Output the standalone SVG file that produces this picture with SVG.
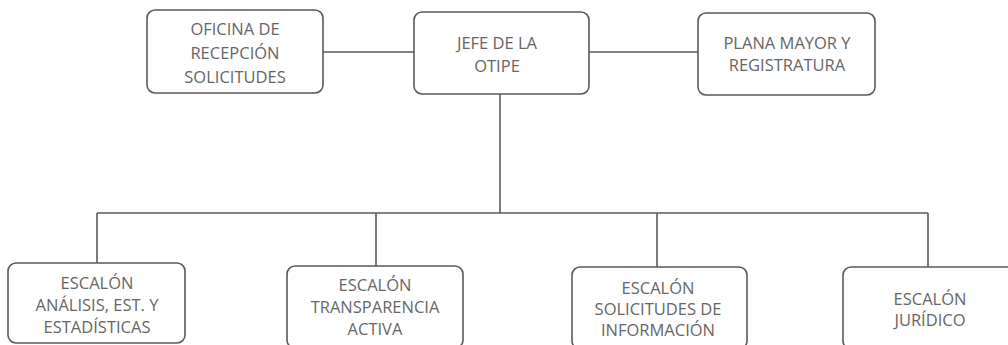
<svg xmlns="http://www.w3.org/2000/svg" width="1008" height="345" viewBox="0 0 1008 345">
<style>
.box{fill:#ffffff;stroke:#5a5a5a;stroke-width:1.6}
.ln{fill:none;stroke:#5a5a5a;stroke-width:1.6}
text{font-family:"Open Sans","Noto Sans","Liberation Sans",sans-serif;font-size:16.5px;fill:#666666;text-anchor:middle;dominant-baseline:central}
</style>
<rect width="1008" height="345" fill="#ffffff"/>
<g id="connectors">
<line class="ln" x1="323" y1="52" x2="414" y2="52"/>
<line class="ln" x1="589" y1="52" x2="698" y2="52"/>
<line class="ln" x1="500" y1="94" x2="500" y2="213"/>
<line class="ln" x1="97" y1="213" x2="928" y2="213"/>
<line class="ln" x1="97" y1="213" x2="97" y2="263"/>
<line class="ln" x1="376" y1="213" x2="376" y2="266"/>
<line class="ln" x1="657" y1="213" x2="657" y2="267"/>
<line class="ln" x1="928" y1="213" x2="928" y2="267"/>
</g>
<g id="oficina">
<rect class="box" x="147" y="10" width="176" height="83" rx="8"/>
<text x="235" y="28">OFICINA DE</text>
<text x="235" y="52">RECEPCIÓN</text>
<text x="235" y="76">SOLICITUDES</text>
</g>
<g id="jefe">
<rect class="box" x="414" y="12" width="175" height="82" rx="8"/>
<text x="497" y="42">JEFE DE LA</text>
<text x="497" y="65">OTIPE</text>
</g>
<g id="plana">
<rect class="box" x="698" y="13" width="177" height="82" rx="8"/>
<text x="787" y="42">PLANA MAYOR Y</text>
<text x="787" y="64">REGISTRATURA</text>
</g>
<g id="analisis">
<rect class="box" x="8" y="263" width="177" height="80" rx="8"/>
<text x="97" y="282">ESCALÓN</text>
<text x="97" y="304">ANÁLISIS, EST. Y</text>
<text x="97" y="326">ESTADÍSTICAS</text>
</g>
<g id="transparencia">
<rect class="box" x="287" y="266" width="176" height="82" rx="8"/>
<text x="375" y="284">ESCALÓN</text>
<text x="375" y="306">TRANSPARENCIA</text>
<text x="375" y="328">ACTIVA</text>
</g>
<g id="solicitudes">
<rect class="box" x="572" y="267" width="175" height="82" rx="8"/>
<text x="658" y="287">ESCALÓN</text>
<text x="658" y="308">SOLICITUDES DE</text>
<text x="658" y="329">INFORMACIÓN</text>
</g>
<g id="juridico">
<rect class="box" x="843" y="267" width="180" height="82" rx="8"/>
<text x="930" y="298">ESCALÓN</text>
<text x="930" y="319">JURÍDICO</text>
</g>
</svg>
